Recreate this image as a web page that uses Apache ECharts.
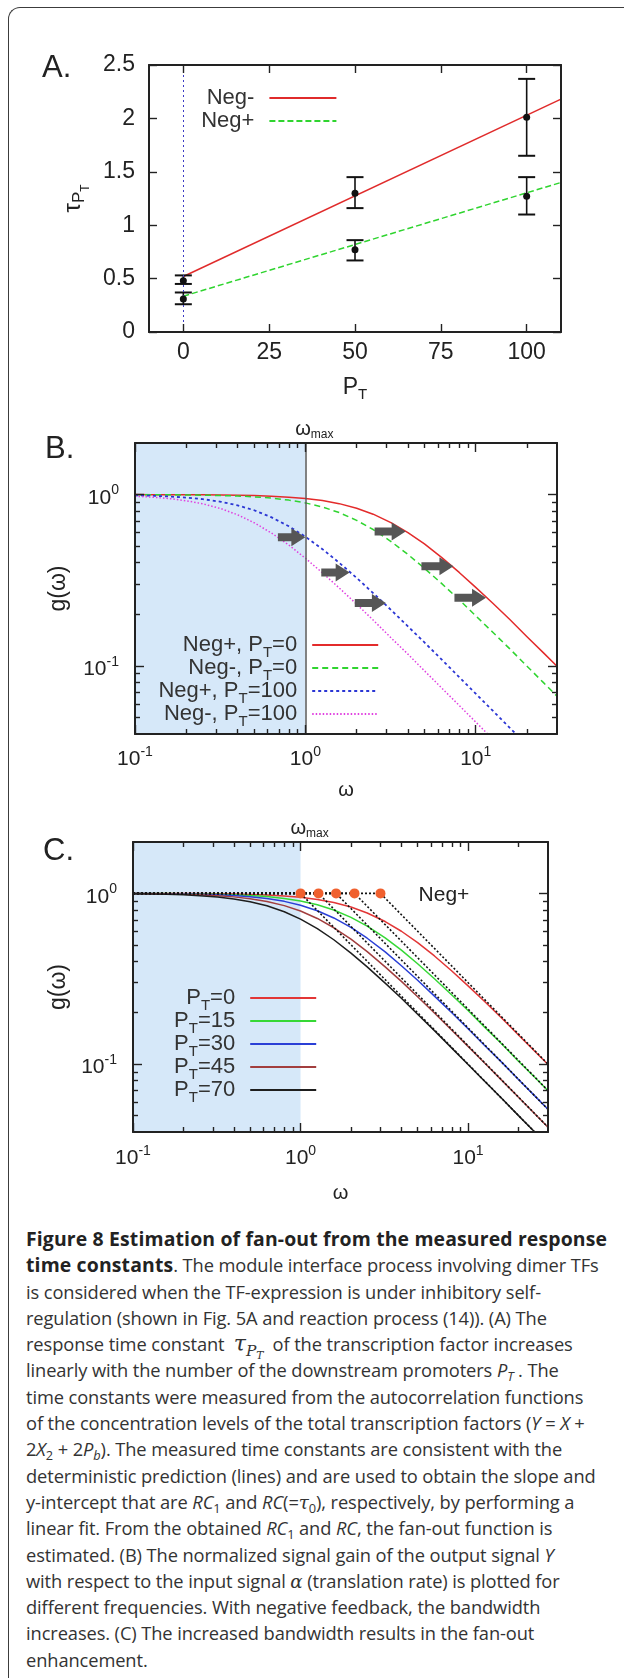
<!DOCTYPE html>
<html>
<head>
<meta charset="utf-8">
<script src="https://cdn.jsdelivr.net/npm/echarts@6/dist/echarts.min.js"></script>
<style>
html, body { margin:0; padding:0; background:#fff; }
#wrap { position:relative; width:624px; height:1678px; overflow:hidden; background:#fff; }
#frame { position:absolute; left:8px; top:7px; width:720px; height:1720px; border-left:1.5px solid #3c3c3c; border-top:1.5px solid #3c3c3c; border-top-left-radius:12px; box-sizing:border-box; }
#chart { position:absolute; left:0; top:0; width:624px; height:1215px; }
#cap { position:absolute; left:26px; top:1226px; font-family:'Open Sans', sans-serif; font-size:18.3px; line-height:26.3px; color:#333; white-space:nowrap; letter-spacing:-0.1px; }
#cap div { height:26.3px; }
#cap b { font-weight:700; color:#222; font-size:19.4px; letter-spacing:0.15px; }
#cap i { font-style:italic; }
#cap .m { font-family:'DejaVu Serif','Liberation Serif',serif; font-style:italic; }
#cap .tau { font-size:22px; }
#cap sub { font-size:70%; vertical-align:-0.3em; line-height:0; }
</style>
</head>
<body>
<div id="wrap">
<div id="frame"></div>
<div id="chart"></div>
<div id="cap">
<div><b>Figure 8 Estimation of fan-out from the measured response</b></div>
<div><b>time constants</b>. The module interface process involving dimer TFs</div>
<div>is considered when the TF-expression is under inhibitory self-</div>
<div>regulation (shown in Fig. 5A and reaction process (14)). (A) The</div>
<div>response time constant &nbsp;<span class="m tau">τ<sub>P<sub>T</sub></sub></span>&nbsp; of the transcription factor increases</div>
<div>linearly with the number of the downstream promoters <i>P<sub>T</sub></i> . The</div>
<div>time constants were measured from the autocorrelation functions</div>
<div>of the concentration levels of the total transcription factors (<i>Y</i> = <i>X</i> +</div>
<div>2<i>X</i><sub>2</sub> + 2<i>P<sub>b</sub></i>). The measured time constants are consistent with the</div>
<div>deterministic prediction (lines) and are used to obtain the slope and</div>
<div>y-intercept that are <i>RC</i><sub>1</sub> and <i>RC</i>(=<span class="m">τ</span><sub>0</sub>), respectively, by performing a</div>
<div>linear fit. From the obtained <i>RC</i><sub>1</sub> and <i>RC</i>, the fan-out function is</div>
<div>estimated. (B) The normalized signal gain of the output signal <i>Y</i></div>
<div>with respect to the input signal <span class="m">α</span> (translation rate) is plotted for</div>
<div>different frequencies. With negative feedback, the bandwidth</div>
<div>increases. (C) The increased bandwidth results in the fan-out</div>
<div>enhancement.</div>
</div>
</div>
<script>
const FONT = '"Liberation Sans", Arial, Helvetica, sans-serif';
const INK = '#222';

// ---------- Panel A: response time constant vs P_T ----------
const A_P = [0, 50, 100];
const A_negMinus = [0.48, 1.30, 2.01];
const A_negMinusLo = [0.45, 1.16, 1.65];
const A_negMinusHi = [0.53, 1.45, 2.37];
const A_negPlus = [0.31, 0.77, 1.27];
const A_negPlusLo = [0.26, 0.67, 1.10];
const A_negPlusHi = [0.37, 0.86, 1.45];
const A_fitP = [0, 110];
const A_fitNegMinus = [0.52, 2.18];
const A_fitNegPlus = [0.335, 1.40];
const A_xTicks = [0, 25, 50, 75, 100];
const A_yTicks = [0, 0.5, 1, 1.5, 2, 2.5];

// ---------- Panels B & C: g(omega), log-log ----------
const omega = [0.1, 0.126, 0.158, 0.2, 0.25, 0.32, 0.4, 0.5, 0.63, 0.8, 1, 1.26, 1.58, 2, 2.5, 3.2, 4, 5, 6.3, 8, 10, 12.6, 15.8, 20, 25, 30];
const B_negPlus0    = [1.0, 0.999, 0.999, 0.998, 0.997, 0.994, 0.991, 0.986, 0.979, 0.966, 0.949, 0.922, 0.885, 0.832, 0.768, 0.684, 0.600, 0.515, 0.430, 0.351, 0.287, 0.232, 0.187, 0.148, 0.119, 0.0995];
const B_negMinus0   = [0.999, 0.998, 0.997, 0.995, 0.992, 0.987, 0.981, 0.970, 0.954, 0.928, 0.894, 0.846, 0.785, 0.707, 0.625, 0.530, 0.447, 0.371, 0.303, 0.243, 0.196, 0.157, 0.126, 0.0995, 0.0798, 0.0665];
const B_negPlus100  = [0.990, 0.984, 0.975, 0.960, 0.940, 0.907, 0.865, 0.810, 0.738, 0.653, 0.568, 0.480, 0.400, 0.326, 0.266, 0.211, 0.170, 0.137, 0.109, 0.0859, 0.0688, 0.0547, 0.0436, 0.0345, 0.0276, 0.0230];
const B_negMinus100 = [0.978, 0.966, 0.948, 0.920, 0.883, 0.827, 0.762, 0.685, 0.598, 0.507, 0.425, 0.349, 0.285, 0.229, 0.185, 0.145, 0.117, 0.0936, 0.0744, 0.0587, 0.0470, 0.0373, 0.0297, 0.0235, 0.0188, 0.0157];
const B_arrowFrom = [0.69, 1.24, 1.95, 2.55, 4.8, 7.5];
const B_arrowTo   = [1.0, 1.82, 2.97, 3.88, 7.4, 11.5];
const B_arrowG    = [0.563, 0.351, 0.233, 0.608, 0.381, 0.25];

const C_P0  = [1.0, 0.999, 0.999, 0.998, 0.997, 0.994, 0.991, 0.986, 0.979, 0.966, 0.949, 0.922, 0.885, 0.832, 0.768, 0.684, 0.600, 0.515, 0.430, 0.351, 0.287, 0.232, 0.187, 0.148, 0.119, 0.0995];
const C_P15 = [0.999, 0.998, 0.997, 0.996, 0.993, 0.989, 0.982, 0.973, 0.958, 0.934, 0.903, 0.857, 0.799, 0.724, 0.643, 0.549, 0.465, 0.387, 0.316, 0.254, 0.206, 0.164, 0.132, 0.104, 0.0837, 0.0698];
const C_P30 = [0.998, 0.997, 0.995, 0.993, 0.988, 0.981, 0.971, 0.956, 0.933, 0.898, 0.852, 0.791, 0.718, 0.632, 0.546, 0.454, 0.377, 0.310, 0.250, 0.200, 0.161, 0.128, 0.103, 0.0812, 0.0651, 0.0543];
const C_P45 = [0.997, 0.995, 0.992, 0.988, 0.981, 0.970, 0.954, 0.931, 0.897, 0.848, 0.788, 0.713, 0.629, 0.539, 0.456, 0.371, 0.305, 0.248, 0.199, 0.158, 0.127, 0.101, 0.0808, 0.0639, 0.0511, 0.0426];
const C_P70 = [0.995, 0.992, 0.988, 0.981, 0.970, 0.952, 0.928, 0.894, 0.846, 0.781, 0.707, 0.622, 0.535, 0.447, 0.371, 0.298, 0.243, 0.196, 0.157, 0.124, 0.0995, 0.0791, 0.0632, 0.0499, 0.0400, 0.0333];
const C_corner  = [3.0, 2.1, 1.63, 1.28, 1.0];
const C_asymEnd = [0.100, 0.070, 0.0543, 0.0427, 0.0333];

const logXMajor = [0.1, 1, 10];
const logXMinor = [0.2, 0.3, 0.4, 0.5, 0.6, 0.7, 0.8, 0.9, 2, 3, 4, 5, 6, 7, 8, 9, 20];
const logYMajor = [0.1, 1];
const logYMinor = [0.05, 0.06, 0.07, 0.08, 0.09, 0.2, 0.3, 0.4, 0.5, 0.6, 0.7, 0.8, 0.9];

function pairs(xs, ys) { return xs.map((x, i) => [x, ys[i]]); }

const supRich = {
  b: { fontSize: 21, lineHeight: 22, padding: [4, 0, 0, 0], verticalAlign: 'top', fontFamily: FONT, color: INK },
  e: { fontSize: 14, lineHeight: 14, verticalAlign: 'top', fontFamily: FONT, color: INK }
};
function powLabel(v) { const e = Math.round(Math.log10(v)); return '{b|10}{e|' + e + '}'; }

const PTrich = {
  p: { fontSize: 23, lineHeight: 24, verticalAlign: 'top', fontFamily: FONT, color: INK },
  s: { fontSize: 15, lineHeight: 15, padding: [11, 0, 0, 0], verticalAlign: 'top', fontFamily: FONT, color: INK }
};
const tauRich = {
  t: { fontSize: 24, lineHeight: 24, verticalAlign: 'top', fontFamily: FONT, color: INK },
  p: { fontSize: 17, lineHeight: 17, padding: [10, 0, 0, 0], verticalAlign: 'top', fontFamily: FONT, color: INK },
  q: { fontSize: 12, lineHeight: 12, padding: [19, 0, 0, 0], verticalAlign: 'top', fontFamily: FONT, color: INK }
};
const wmaxRich = {
  w: { fontSize: 20, lineHeight: 20, verticalAlign: 'top', fontFamily: FONT, color: INK },
  m: { fontSize: 12, lineHeight: 12, padding: [10, 0, 0, 0], verticalAlign: 'top', fontFamily: FONT, color: INK }
};

function axis(o) {
  const a = {
    gridIndex: o.grid, type: o.type, position: o.pos, min: o.min, max: o.max, z: 10,
    axisLine: { show: !!o.line, onZero: false, lineStyle: { color: INK, width: 2 } },
    axisTick: { show: true, inside: true, length: o.len, customValues: o.ticks, lineStyle: { color: INK, width: 1.4 } },
    axisLabel: { show: false },
    splitLine: { show: false },
    minorTick: { show: false },
    minorSplitLine: { show: false }
  };
  if (o.type === 'log') a.logBase = 10;
  if (o.interval) a.interval = o.interval;
  if (o.label) a.axisLabel = Object.assign({ show: true, customValues: o.ticks, color: INK, fontFamily: FONT }, o.label);
  if (o.name) {
    a.name = o.name; a.nameLocation = 'middle'; a.nameGap = o.nameGap; a.nameTextStyle = o.nameStyle;
    if (o.nameRotate != null) a.nameRotate = o.nameRotate;
  }
  return a;
}

const legRich = {
  n: { fontSize: 22, lineHeight: 22, verticalAlign: 'top', fontFamily: FONT, color: '#333' },
  s: { fontSize: 15, lineHeight: 15, padding: [11, 0, 0, 0], verticalAlign: 'top', fontFamily: FONT, color: '#333' },
  g: { width: 10, fontSize: 22, lineHeight: 22, verticalAlign: 'top' }
};
function legFmt(name) {
  const k = name.indexOf('P_T');
  if (k < 0) return '{n|' + name + '}{g| }';
  const pre = name.slice(0, k), post = name.slice(k + 3);
  return (pre ? '{n|' + pre + '}' : '') + '{n|P}{s|T}{n|' + post + '}{g| }';
}
function legend(names, right, top, gap, w) {
  return {
    data: names, orient: 'vertical', align: 'right', right: right, top: top,
    itemWidth: w, itemHeight: 14, itemGap: gap, padding: 0, selectedMode: false,
    itemStyle: { opacity: 0, color: 'rgba(0,0,0,0)', borderWidth: 0 },
    formatter: legFmt, textStyle: { rich: legRich, fontFamily: FONT, fontSize: 22, color: '#333' }
  };
}

function errRender(params, api) {
  const x = api.value(0);
  const lo = api.coord([x, api.value(1)]);
  const hi = api.coord([x, api.value(2)]);
  const w = 8.5;
  return {
    type: 'group', children: [
      { type: 'line', shape: { x1: lo[0], y1: lo[1], x2: hi[0], y2: hi[1] }, style: { stroke: '#111', lineWidth: 1.6 } },
      { type: 'line', shape: { x1: lo[0] - w, y1: lo[1], x2: lo[0] + w, y2: lo[1] }, style: { stroke: '#111', lineWidth: 2 } },
      { type: 'line', shape: { x1: hi[0] - w, y1: hi[1], x2: hi[0] + w, y2: hi[1] }, style: { stroke: '#111', lineWidth: 2 } }
    ]
  };
}
function arrowRender(params, api) {
  const g = api.value(2);
  const p1 = api.coord([api.value(0), g]);
  const p2 = api.coord([api.value(1), g]);
  const hl = 14, hw = 9, sw = 4;
  const x0 = p1[0], x1 = p2[0], y = p1[1], xh = x1 - hl;
  return {
    type: 'polygon',
    shape: { points: [[x0, y - sw], [xh, y - sw], [xh, y - hw], [x1, y], [xh, y + hw], [xh, y + sw], [x0, y + sw]] },
    style: { fill: '#565656' }
  };
}

const lineBase = { type: 'line', symbol: 'none', silent: true, animation: false, clip: true, smooth: false };
function curve(name, xi, ys, color, type, width, extra) {
  return Object.assign({}, lineBase, {
    name: name, xAxisIndex: xi, yAxisIndex: xi, data: pairs(omega, ys), z: 3,
    itemStyle: { color: color }, lineStyle: { color: color, type: type, width: width, join: 'round' }
  }, extra || {});
}
const shade = { silent: true, itemStyle: { color: '#d6e8f9' }, data: [[{ xAxis: 0.1 }, { xAxis: 1 }]] };
function wmaxLine(color) {
  return {
    silent: true, symbol: ['none', 'none'],
    lineStyle: { color: color, width: 1.5, type: 'solid' },
    label: { show: true, position: 'end', distance: 4, padding: [0, 0, 0, 18], formatter: '{w|ω}{m|max}', rich: wmaxRich },
    data: [{ xAxis: 1 }]
  };
}

const series = [];
// Panel A
series.push(Object.assign({}, lineBase, {
  name: 'Neg-', xAxisIndex: 0, yAxisIndex: 0, data: pairs(A_fitP, A_fitNegMinus), z: 3,
  itemStyle: { color: '#e02b2b' }, lineStyle: { color: '#e02b2b', width: 1.5, type: 'solid' },
  markLine: { silent: true, symbol: ['none', 'none'], label: { show: false },
    lineStyle: { color: '#3b3bc4', type: [2, 3], width: 1 }, data: [{ xAxis: 0 }] }
}));
series.push(Object.assign({}, lineBase, {
  name: 'Neg+', xAxisIndex: 0, yAxisIndex: 0, data: pairs(A_fitP, A_fitNegPlus), z: 3,
  itemStyle: { color: '#2fd42f' }, lineStyle: { color: '#2fd42f', width: 1.5, type: [6, 3] }
}));
series.push({ type: 'custom', name: 'Neg- err', xAxisIndex: 0, yAxisIndex: 0, silent: true, z: 4,
  data: A_P.map((p, i) => [p, A_negMinusLo[i], A_negMinusHi[i]]), renderItem: errRender });
series.push({ type: 'custom', name: 'Neg+ err', xAxisIndex: 0, yAxisIndex: 0, silent: true, z: 4,
  data: A_P.map((p, i) => [p, A_negPlusLo[i], A_negPlusHi[i]]), renderItem: errRender });
series.push({ type: 'scatter', name: 'Neg- pts', xAxisIndex: 0, yAxisIndex: 0, silent: true, z: 5,
  data: pairs(A_P, A_negMinus), symbol: 'circle', symbolSize: 7, itemStyle: { color: '#111', opacity: 1 } });
series.push({ type: 'scatter', name: 'Neg+ pts', xAxisIndex: 0, yAxisIndex: 0, silent: true, z: 5,
  data: pairs(A_P, A_negPlus), symbol: 'circle', symbolSize: 7, itemStyle: { color: '#111', opacity: 1 } });

// Panel B
series.push(curve('Neg+, P_T=0', 2, B_negPlus0, '#e32b2b', 'solid', 1.5, { markArea: shade, markLine: wmaxLine('#5a5a5a') }));
series.push(curve('Neg-, P_T=0', 2, B_negMinus0, '#2fd42f', [6, 4], 1.5));
series.push(curve('Neg+, P_T=100', 2, B_negPlus100, '#2b36d4', [3, 3], 1.8));
series.push(curve('Neg-, P_T=100', 2, B_negMinus100, '#e040e0', [1.5, 2], 1.5));
series.push({ type: 'custom', name: 'arrows', xAxisIndex: 2, yAxisIndex: 2, silent: true, z: 6,
  data: B_arrowFrom.map((f, i) => [f, B_arrowTo[i], B_arrowG[i]]), renderItem: arrowRender });

// Panel C
series.push(curve('P_T=0', 6, C_P0, '#e23636', 'solid', 1.5, { markArea: shade, markLine: wmaxLine('rgba(0,0,0,0)') }));
series.push(curve('P_T=15', 6, C_P15, '#36d836', 'solid', 1.5));
series.push(curve('P_T=30', 6, C_P30, '#2a3fd6', 'solid', 1.5));
series.push(curve('P_T=45', 6, C_P45, '#a23e3e', 'solid', 1.5));
series.push(curve('P_T=70', 6, C_P70, '#1e1e1e', 'solid', 1.5));
C_corner.forEach((c, i) => {
  series.push(Object.assign({}, lineBase, {
    name: 'asym' + i, xAxisIndex: 6, yAxisIndex: 6, z: 4,
    data: [[0.1, 1], [c, 1], [30, C_asymEnd[i]]],
    lineStyle: { color: '#111', type: [2, 2], width: 1.6 }, itemStyle: { color: '#111' }
  }));
});
series.push({ type: 'scatter', name: 'corners', xAxisIndex: 6, yAxisIndex: 6, silent: true, z: 7,
  data: C_corner.map(c => [c, 1]), symbol: 'circle', symbolSize: 10, itemStyle: { color: '#f0602e', opacity: 1 } });

const xAxis = [
  axis({ grid: 0, type: 'value', pos: 'bottom', min: -10, max: 110, line: true, len: 8, ticks: A_xTicks,
    label: { fontSize: 23, margin: 9 }, name: '{p|P}{s|T}', nameGap: 44, nameStyle: { rich: PTrich } }),
  axis({ grid: 0, type: 'value', pos: 'top', min: -10, max: 110, line: true, len: 8, ticks: A_xTicks }),
  axis({ grid: 1, type: 'log', pos: 'bottom', min: 0.1, max: 30, line: true, len: 9, ticks: logXMajor,
    label: { margin: 11, formatter: powLabel, rich: supRich }, name: 'ω', nameGap: 46,
    nameStyle: { fontSize: 20, fontFamily: FONT, color: INK } }),
  axis({ grid: 1, type: 'log', pos: 'bottom', min: 0.1, max: 30, len: 5, ticks: logXMinor }),
  axis({ grid: 1, type: 'log', pos: 'top', min: 0.1, max: 30, line: true, len: 9, ticks: logXMajor }),
  axis({ grid: 1, type: 'log', pos: 'top', min: 0.1, max: 30, len: 5, ticks: logXMinor }),
  axis({ grid: 2, type: 'log', pos: 'bottom', min: 0.1, max: 30, line: true, len: 9, ticks: logXMajor,
    label: { margin: 12, formatter: powLabel, rich: supRich }, name: 'ω', nameGap: 51,
    nameStyle: { fontSize: 20, fontFamily: FONT, color: INK } }),
  axis({ grid: 2, type: 'log', pos: 'bottom', min: 0.1, max: 30, len: 5, ticks: logXMinor }),
  axis({ grid: 2, type: 'log', pos: 'top', min: 0.1, max: 30, line: true, len: 9, ticks: logXMajor }),
  axis({ grid: 2, type: 'log', pos: 'top', min: 0.1, max: 30, len: 5, ticks: logXMinor })
];
const yAxis = [
  axis({ grid: 0, type: 'value', pos: 'left', min: 0, max: 2.5, interval: 0.5, line: true, len: 8, ticks: A_yTicks,
    label: { fontSize: 23, margin: 14 }, name: '{t|τ}{p|P}{q|T}', nameGap: 64, nameRotate: 90, nameStyle: { rich: tauRich } }),
  axis({ grid: 0, type: 'value', pos: 'right', min: 0, max: 2.5, interval: 0.5, line: true, len: 8, ticks: A_yTicks }),
  axis({ grid: 1, type: 'log', pos: 'left', min: 0.04, max: 2, line: true, len: 9, ticks: logYMajor,
    label: { margin: 16, formatter: powLabel, rich: supRich }, name: 'g(ω)', nameGap: 65, nameRotate: 90,
    nameStyle: { fontSize: 23, fontFamily: FONT, color: INK } }),
  axis({ grid: 1, type: 'log', pos: 'left', min: 0.04, max: 2, len: 5, ticks: logYMinor }),
  axis({ grid: 1, type: 'log', pos: 'right', min: 0.04, max: 2, line: true, len: 9, ticks: logYMajor }),
  axis({ grid: 1, type: 'log', pos: 'right', min: 0.04, max: 2, len: 5, ticks: logYMinor }),
  axis({ grid: 2, type: 'log', pos: 'left', min: 0.04, max: 2, line: true, len: 9, ticks: logYMajor,
    label: { margin: 16, formatter: powLabel, rich: supRich }, name: 'g(ω)', nameGap: 63, nameRotate: 90,
    nameStyle: { fontSize: 23, fontFamily: FONT, color: INK } }),
  axis({ grid: 2, type: 'log', pos: 'left', min: 0.04, max: 2, len: 5, ticks: logYMinor }),
  axis({ grid: 2, type: 'log', pos: 'right', min: 0.04, max: 2, line: true, len: 9, ticks: logYMajor }),
  axis({ grid: 2, type: 'log', pos: 'right', min: 0.04, max: 2, len: 5, ticks: logYMinor })
];

const chart = echarts.init(document.getElementById('chart'), null, { renderer: 'canvas' });
chart.setOption({
  animation: false,
  backgroundColor: 'transparent',
  grid: [
    { left: 149, top: 65, width: 412, height: 267, outerBoundsMode: 'none' },
    { left: 135, top: 443, width: 422, height: 291, outerBoundsMode: 'none' },
    { left: 133, top: 842, width: 415, height: 290, outerBoundsMode: 'none' }
  ],
  xAxis: xAxis,
  yAxis: yAxis,
  legend: [
    legend(['Neg-', 'Neg+'], 286.6, 87, 1, 67),
    legend(['Neg+, P_T=0', 'Neg-, P_T=0', 'Neg+, P_T=100', 'Neg-, P_T=100'], 244.8, 634, -3, 66),
    legend(['P_T=0', 'P_T=15', 'P_T=30', 'P_T=45', 'P_T=70'], 306.8, 987, -3, 66)
  ],
  graphic: [
    { type: 'text', x: 42, y: 68.5, style: { text: 'A.', fontSize: 31, fontFamily: FONT, fill: INK, verticalAlign: 'middle' } },
    { type: 'text', x: 45, y: 449, style: { text: 'B.', fontSize: 31, fontFamily: FONT, fill: INK, verticalAlign: 'middle' } },
    { type: 'text', x: 43, y: 851, style: { text: 'C.', fontSize: 31, fontFamily: FONT, fill: INK, verticalAlign: 'middle' } },
    { type: 'text', x: 418.6, y: 895, style: { text: 'Neg+', fontSize: 21, fontFamily: FONT, fill: INK, verticalAlign: 'middle' } }
  ],
  series: series
});
</script>
</body>
</html>
